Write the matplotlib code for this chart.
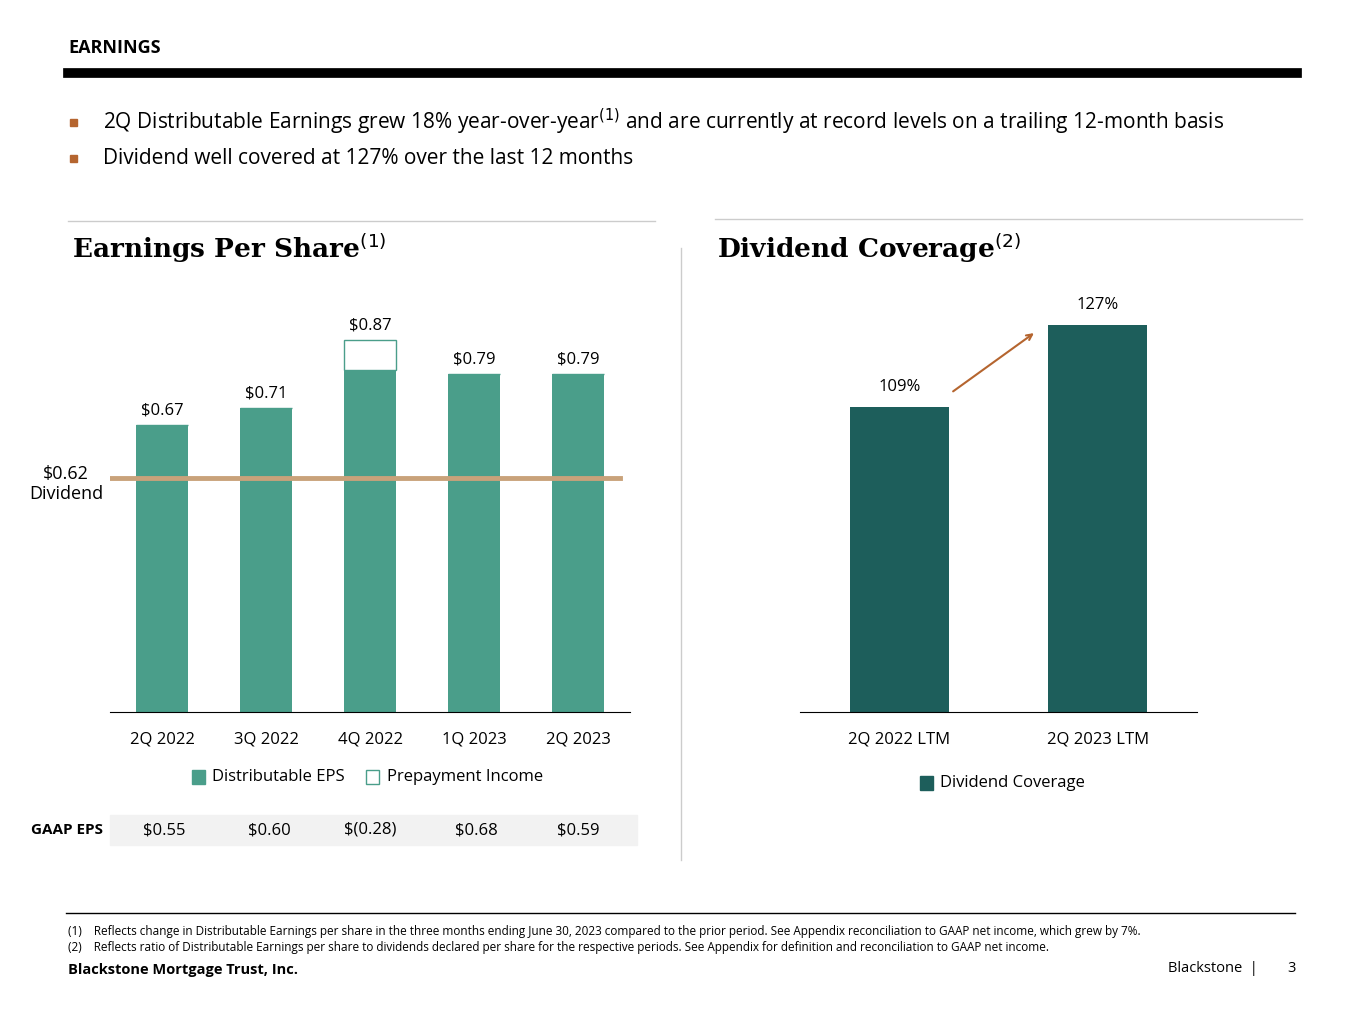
import matplotlib.pyplot as plt
from matplotlib.patches import Rectangle
from matplotlib.lines import Line2D

plt.rcParams['font.family'] = ['Open Sans', 'DejaVu Sans']

quarters = ['2Q 2022', '3Q 2022', '4Q 2022', '1Q 2023', '2Q 2023']
dist_eps = [0.67, 0.71, 0.80, 0.79, 0.79]
prepay = [0.0, 0.0, 0.07, 0.0, 0.0]
eps_labels = ['$0.67', '$0.71', '$0.87', '$0.79', '$0.79']
gaap_eps = ['$0.55', '$0.60', '$(0.28)', '$0.68', '$0.59']
dividend_level = 0.547
cov_periods = ['2Q 2022 LTM', '2Q 2023 LTM']
coverage = [109, 127]

W, H = 1365, 1024
fig = plt.figure(figsize=(13.65, 10.24), dpi=100)
fx = lambda x: x / W
fy = lambda y: 1 - y / H

teal = '#4a9e8a'
dark = '#1d5e5b'
copper = '#b5652f'
tan = '#c9a27a'

# header
fig.text(fx(68), fy(48), 'EARNINGS', fontsize=13, weight='bold', va='center')
fig.add_artist(Line2D([fx(68), fx(1297)], [fy(73), fy(73)], color='black', lw=7))
for y, t in [(122, '2Q Distributable Earnings grew 18% year-over-year$^{(1)}$ and are currently at record levels on a trailing 12-month basis'),
             (158, 'Dividend well covered at 127% over the last 12 months')]:
    fig.add_artist(Rectangle((fx(70), fy(y + 4)), fx(7), 7 / H, color=copper))
    fig.text(fx(103), fy(y), t, fontsize=15, va='center')

fig.add_artist(Line2D([fx(68), fx(655)], [fy(221), fy(221)], color='#cccccc', lw=1))
fig.add_artist(Line2D([fx(715), fx(1302)], [fy(219), fy(219)], color='#cccccc', lw=1))
fig.add_artist(Line2D([fx(681), fx(681)], [fy(248), fy(860)], color='#cccccc', lw=1))
fig.text(fx(72), fy(248), 'Earnings Per Share$^{(1)}$', fontsize=19, weight='bold',
         family='DejaVu Serif', va='center')
fig.text(fx(717), fy(248), 'Dividend Coverage$^{(2)}$', fontsize=19, weight='bold',
         family='DejaVu Serif', va='center')

# left chart
ax = fig.add_axes([fx(110), fy(712), fx(520), (712 - 290) / H])
x = range(len(quarters))
ax.bar(x, dist_eps, width=0.5, color=teal)
ax.bar(x, prepay, width=0.5, bottom=dist_eps, color='white', edgecolor=teal, lw=1)
for i, lab in enumerate(eps_labels):
    ax.text(i, dist_eps[i] + prepay[i] + 0.015, lab, ha='center', va='bottom', fontsize=12)
ax.axhline(dividend_level, xmin=0.0, xmax=0.98, color=tan, lw=3.5)
ax.set_xlim(-0.5, 4.5)
ax.set_ylim(0, 422 / 428)
ax.set_xticks(list(x))
ax.set_xticklabels(quarters, fontsize=12)
ax.tick_params(length=0, pad=14)
ax.set_yticks([])
for s in ['top', 'right', 'left']:
    ax.spines[s].set_visible(False)
fig.text(fx(66), fy(484), '$0.62\nDividend', fontsize=13, ha='center', va='center', linespacing=1.2)

fig.add_artist(Rectangle((fx(192), fy(784)), fx(13), 14 / H, color=teal))
fig.text(fx(212), fy(777), 'Distributable EPS', fontsize=12, va='center')
fig.add_artist(Rectangle((fx(366), fy(784)), fx(13), 14 / H, facecolor='white', edgecolor=teal, lw=1))
fig.text(fx(387), fy(777), 'Prepayment Income', fontsize=12, va='center')

fig.add_artist(Rectangle((fx(110), fy(845)), fx(527), 30 / H, color='#f2f2f2'))
fig.text(fx(103), fy(830), 'GAAP EPS', fontsize=11, weight='bold', ha='right', va='center')
for xc, g in zip([164, 269, 370, 476, 578], gaap_eps):
    fig.text(fx(xc), fy(830), g, fontsize=12, ha='center', va='center')

# right chart
ax2 = fig.add_axes([fx(800), fy(712), fx(397), (712 - 290) / H])
ax2.bar([0, 1], coverage, width=0.5, color=dark)
for i, v in enumerate(coverage):
    ax2.text(i, v + 2.5, f'{v}%', ha='center', va='bottom', fontsize=12)
ax2.annotate('', xy=(0.69, 125.5), xytext=(0.26, 112),
             arrowprops=dict(arrowstyle='->', color=copper, lw=1.5))
ax2.set_xlim(-0.5, 1.5)
ax2.set_ylim(42, 134.6)
ax2.set_xticks([0, 1])
ax2.set_xticklabels(cov_periods, fontsize=12)
ax2.tick_params(length=0, pad=14)
ax2.set_yticks([])
for s in ['top', 'right', 'left']:
    ax2.spines[s].set_visible(False)
fig.add_artist(Rectangle((fx(920), fy(790)), fx(13), 14 / H, color=dark))
fig.text(fx(940), fy(783), 'Dividend Coverage', fontsize=12, va='center')

# footer
fig.add_artist(Line2D([fx(66), fx(1295)], [fy(913), fy(913)], color='black', lw=1))
fig.text(fx(68), fy(931), '(1)    Reflects change in Distributable Earnings per share in the three months ending June 30, 2023 compared to the prior period. See Appendix reconciliation to GAAP net income, which grew by 7%.',
         fontsize=8.5, va='center')
fig.text(fx(68), fy(947), '(2)    Reflects ratio of Distributable Earnings per share to dividends declared per share for the respective periods. See Appendix for definition and reconciliation to GAAP net income.',
         fontsize=8.5, va='center')
fig.text(fx(68), fy(970), 'Blackstone Mortgage Trust, Inc.', fontsize=10.5, weight='bold', va='center')
fig.text(fx(1258), fy(969), 'Blackstone  |', fontsize=10.5, ha='right', va='center')
fig.text(fx(1292), fy(969), '3', fontsize=10.5, ha='center', va='center')

fig.savefig('out.png', dpi=100)
